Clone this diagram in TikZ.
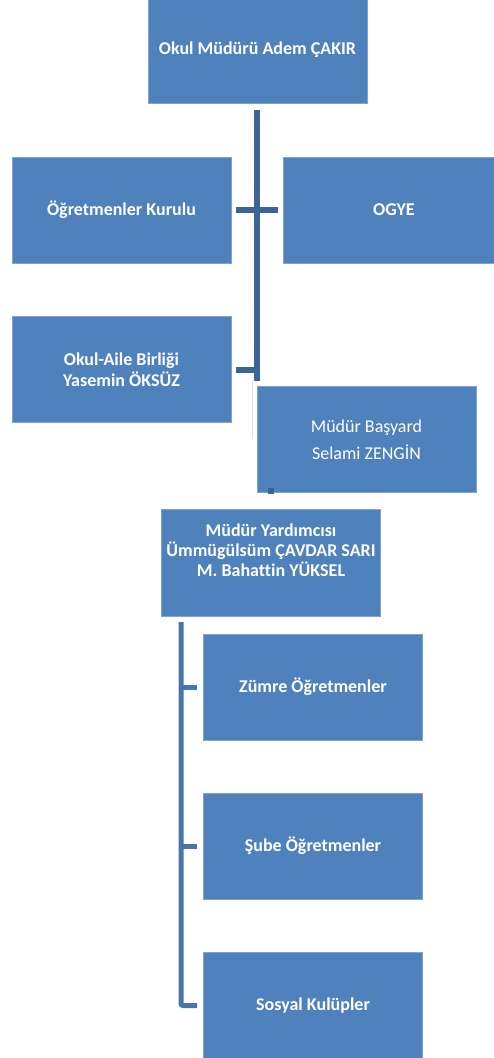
\documentclass[tikz,border=0pt]{standalone}
\usepackage{fontspec}
\setmainfont{Carlito}[Ligatures=NoCommon]
\definecolor{boxblue}{HTML}{4F81BD}
\definecolor{boxedge}{HTML}{7FA3D0}
\definecolor{trunkblue}{HTML}{3D6496}
\definecolor{lowblue}{HTML}{4A74AC}
\definecolor{faint}{HTML}{DCE3EE}
\begin{document}
\begin{tikzpicture}[x=1pt,y=-1pt,
  box/.style={draw=boxedge,line width=0.8pt,fill=boxblue,text=white,align=center,
    minimum width=219pt,minimum height=106pt,inner sep=0pt,
    font=\bfseries\fontsize{18}{21}\selectfont},
  plainbox/.style={box,font=\fontsize{18}{27}\selectfont},
  trunk/.style={draw=trunkblue,line width=6pt},
  lower/.style={draw=lowblue,line width=5pt},
  faintline/.style={draw=faint,line width=1pt}]
\useasboundingbox (0,0) rectangle (493,1058);
% boxes
\node[box] (mudur) at (257.5,50) {Okul Müdürü Adem ÇAKIR};
\node[box] (ogret) at (121.5,210) {Öğretmenler Kurulu};
\node[box,minimum width=222pt] (ogye) at (394,210) {OGYE};
\node[box] (aile) at (121.5,369.5) {Okul-Aile Birliği\\Yasemin ÖKSÜZ};
\node[plainbox] (basyard) at (366.5,439.5) {Müdür Başyard\\Selami ZENGİN};
\node[box,minimum height=107pt] (yard) at (271,562.5) {};
\node[font=\bfseries\fontsize{18}{20}\selectfont,text=white,align=center] (yardtext) at (271,550) {Müdür Yardımcısı\\Ümmügülsüm ÇAVDAR SARI\\M. Bahattin YÜKSEL};
\node[box] (zumre) at (313,687) {Zümre Öğretmenler};
\node[box] (sube) at (313,846) {Şube Öğretmenler};
\node[box] (sosyal) at (313,1005.5) {Sosyal Kulüpler};
% upper connectors
\coordinate (trunktop) at (257,110);
\coordinate (trunkbot) at (257,381);
\draw[trunk] (trunktop) -- (trunkbot);
\draw[trunk] ([xshift=5pt]ogret.east) -- ([xshift=-5pt]ogye.west);
\draw[trunk] ([xshift=5pt]aile.east) -- (trunkbot |- aile.east);
\coordinate (faintbot) at (252,439);
\draw[faintline] (252,381) -- (faintbot);
\draw[trunk] ([xshift=-95.5pt,yshift=5pt]basyard.south) -- ++(0,6);
% lower connectors
\coordinate (lowtop) at (181,622);
\draw[lower,rounded corners=2pt] (lowtop) |- ([xshift=-6pt]sosyal.west);
\draw[lower] (lowtop |- zumre.west) -- ([xshift=-6pt]zumre.west);
\draw[lower] (lowtop |- sube.west) -- ([xshift=-6pt]sube.west);
\end{tikzpicture}
\end{document}
